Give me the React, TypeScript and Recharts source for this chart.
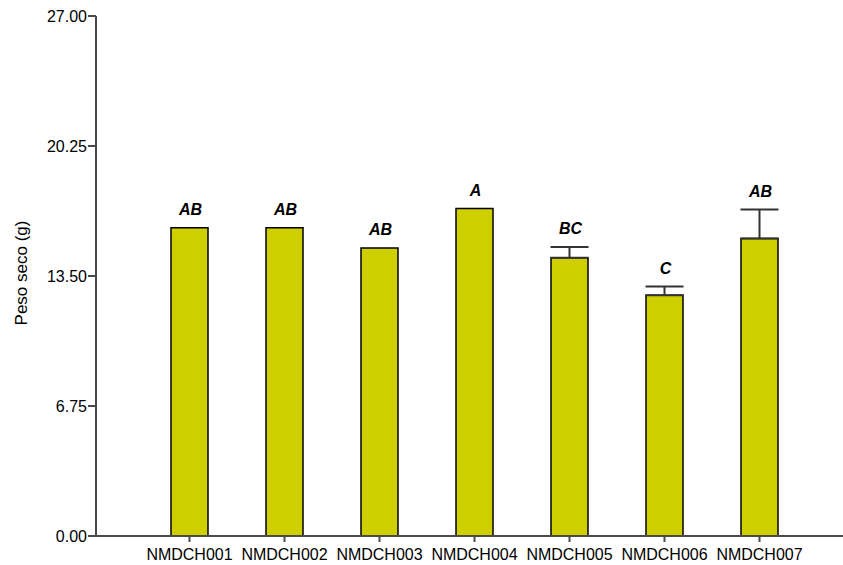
import React from "react";
import { BarChart, Bar, XAxis, YAxis, ErrorBar, LabelList } from "recharts";

const lineas = ["NMDCH001", "NMDCH002", "NMDCH003", "NMDCH004", "NMDCH005", "NMDCH006", "NMDCH007"];
const pesoSeco = [16.0, 16.0, 14.95, 17.0, 14.45, 12.5, 15.45];
const errorEst = [null, null, null, null, 0.55, 0.45, 1.5];
const letras = ["AB", "AB", "AB", "A", "BC", "C", "AB"];
const yTicks = [0, 6.75, 13.5, 20.25, 27];

const data = lineas.map((name, i) => ({
  name,
  peso: pesoSeco[i],
  err: errorEst[i] == null ? null : [0, errorEst[i]],
}));

const font = "'Liberation Sans', Arial, sans-serif";
const axisColor = "#4a4a4a";

const Letra = (props: any) => {
  const { x, y, width, height, value, index } = props;
  const e = errorEst[index] || 0;
  const pxPerUnit = height / pesoSeco[index];
  const top = y - e * pxPerUnit;
  return (
    <text
      x={x + width / 2 + 1}
      y={top - 13}
      textAnchor="middle"
      fontFamily={font}
      fontSize={16}
      fontWeight="bold"
      fontStyle="italic"
      fill="#000"
    >
      {value}
    </text>
  );
};

const App: React.FC = () => {
  return (
    <div style={{ position: "absolute", left: 0, top: 0, background: "#fff" }}>
      <BarChart
        width={843}
        height={565}
        data={data}
        margin={{ top: 16, right: 0, bottom: 0, left: 0 }}
        barCategoryGap={0}
      >
        <XAxis
          dataKey="name"
          height={29}
          padding={{ left: 46, right: 36 }}
          stroke={axisColor}
          strokeWidth={2}
          tickSize={6}
          tickMargin={7}
          tick={{ fill: "#000", fontSize: 16, fontFamily: font }}
          interval={0}
        />
        <YAxis
          width={96}
          domain={[0, 27]}
          ticks={yTicks}
          tickFormatter={(v: number) => v.toFixed(2)}
          stroke={axisColor}
          strokeWidth={2}
          tickSize={8}
          tickMargin={1}
          tick={{ fill: "#000", fontSize: 16, fontFamily: font }}
          label={{
            value: "Peso seco (g)",
            angle: -90,
            position: "center",
            dx: -27,
            dy: -3,
            style: { fontSize: 17, fontFamily: font, fill: "#000" },
          }}
        />
        <Bar
          dataKey="peso"
          fill="#cfcf00"
          stroke="#000"
          strokeWidth={1.5}
          barSize={37}
          isAnimationActive={false}
        >
          <ErrorBar dataKey="err" width={19} stroke="#333" strokeWidth={2} direction="y" />
          <LabelList dataKey={(d: any) => letras[lineas.indexOf(d.name)]} content={<Letra />} />
        </Bar>
      </BarChart>
    </div>
  );
};

export default App;
